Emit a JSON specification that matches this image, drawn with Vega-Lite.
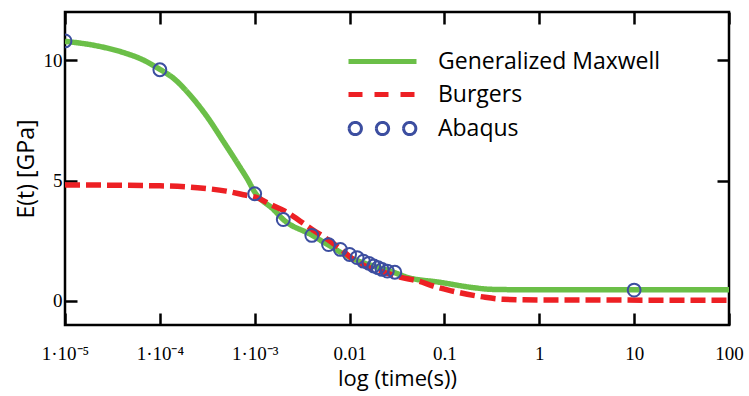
{
  "$schema": "https://vega.github.io/schema/vega-lite/v6.json",
  "width": 664,
  "height": 313,
  "autosize": "none",
  "padding": {"left": 65, "top": 12, "right": 20, "bottom": 71},
  "background": "white",
  "config": {
    "view": {"stroke": "black", "strokeWidth": 2.5},
    "axis": {
      "grid": false,
      "domain": false,
      "tickColor": "black",
      "tickWidth": 2.5,
      "tickSize": -12,
      "labelFont": "Liberation Serif",
      "labelFontSize": 19,
      "labelColor": "black",
      "labelFlush": false,
      "labelOverlap": false,
      "titleFont": "Open Sans",
      "titleFontSize": 22,
      "titleFontWeight": "normal",
      "titleColor": "black"
    },
    "legend": {
      "orient": "none",
      "legendX": 306,
      "legendY": 38,
      "padding": 0,
      "labelFont": "Open Sans",
      "labelFontSize": 23,
      "labelColor": "black",
      "labelLimit": 0,
      "labelOffset": 44,
      "rowPadding": 9,
      "symbolType": "stroke",
      "symbolSize": 4624,
      "symbolStrokeWidth": 5
    }
  },
  "datasets": {
    "curves": [
      {"t": 0.00001, "E": 10.78, "series": "Generalized Maxwell"},
      {"t": 0.00002, "E": 10.62, "series": "Generalized Maxwell"},
      {"t": 0.0000457, "E": 10.26, "series": "Generalized Maxwell"},
      {"t": 0.0000625, "E": 10.06, "series": "Generalized Maxwell"},
      {"t": 0.0001, "E": 9.62, "series": "Generalized Maxwell"},
      {"t": 0.000141, "E": 9.23, "series": "Generalized Maxwell"},
      {"t": 0.000209, "E": 8.54, "series": "Generalized Maxwell"},
      {"t": 0.000316, "E": 7.64, "series": "Generalized Maxwell"},
      {"t": 0.000468, "E": 6.62, "series": "Generalized Maxwell"},
      {"t": 0.000708, "E": 5.52, "series": "Generalized Maxwell"},
      {"t": 0.000832, "E": 5.08, "series": "Generalized Maxwell"},
      {"t": 0.001, "E": 4.52, "series": "Generalized Maxwell"},
      {"t": 0.001585, "E": 3.79, "series": "Generalized Maxwell"},
      {"t": 0.002, "E": 3.38, "series": "Generalized Maxwell"},
      {"t": 0.00389, "E": 2.76, "series": "Generalized Maxwell"},
      {"t": 0.00589, "E": 2.34, "series": "Generalized Maxwell"},
      {"t": 0.0102, "E": 1.8, "series": "Generalized Maxwell"},
      {"t": 0.0178, "E": 1.45, "series": "Generalized Maxwell"},
      {"t": 0.0269, "E": 1.24, "series": "Generalized Maxwell"},
      {"t": 0.0407, "E": 0.98, "series": "Generalized Maxwell"},
      {"t": 0.0912, "E": 0.77, "series": "Generalized Maxwell"},
      {"t": 0.204, "E": 0.55, "series": "Generalized Maxwell"},
      {"t": 0.316, "E": 0.48, "series": "Generalized Maxwell"},
      {"t": 1, "E": 0.46, "series": "Generalized Maxwell"},
      {"t": 100, "E": 0.46, "series": "Generalized Maxwell"},
      {"t": 0.00001, "E": 4.82, "series": "Burgers"},
      {"t": 0.0001, "E": 4.78, "series": "Burgers"},
      {"t": 0.00025, "E": 4.7, "series": "Burgers"},
      {"t": 0.0005, "E": 4.56, "series": "Burgers"},
      {"t": 0.00076, "E": 4.41, "series": "Burgers"},
      {"t": 0.00107, "E": 4.28, "series": "Burgers"},
      {"t": 0.00148, "E": 4.0, "series": "Burgers"},
      {"t": 0.00224, "E": 3.66, "series": "Burgers"},
      {"t": 0.00302, "E": 3.31, "series": "Burgers"},
      {"t": 0.00407, "E": 2.96, "series": "Burgers"},
      {"t": 0.00589, "E": 2.55, "series": "Burgers"},
      {"t": 0.00813, "E": 2.14, "series": "Burgers"},
      {"t": 0.011, "E": 1.72, "series": "Burgers"},
      {"t": 0.0158, "E": 1.39, "series": "Burgers"},
      {"t": 0.0229, "E": 1.19, "series": "Burgers"},
      {"t": 0.0347, "E": 0.98, "series": "Burgers"},
      {"t": 0.0525, "E": 0.83, "series": "Burgers"},
      {"t": 0.0759, "E": 0.62, "series": "Burgers"},
      {"t": 0.11, "E": 0.45, "series": "Burgers"},
      {"t": 0.174, "E": 0.28, "series": "Burgers"},
      {"t": 0.269, "E": 0.15, "series": "Burgers"},
      {"t": 0.417, "E": 0.07, "series": "Burgers"},
      {"t": 1, "E": 0.04, "series": "Burgers"},
      {"t": 100, "E": 0.03, "series": "Burgers"}
    ],
    "abaqus": [
      {"t": 0.00001, "E": 10.8, "series": "Abaqus"},
      {"t": 0.0001, "E": 9.6, "series": "Abaqus"},
      {"t": 0.001, "E": 4.45, "series": "Abaqus"},
      {"t": 0.002, "E": 3.38, "series": "Abaqus"},
      {"t": 0.004, "E": 2.72, "series": "Abaqus"},
      {"t": 0.006, "E": 2.34, "series": "Abaqus"},
      {"t": 0.008, "E": 2.14, "series": "Abaqus"},
      {"t": 0.01, "E": 1.93, "series": "Abaqus"},
      {"t": 0.012, "E": 1.8, "series": "Abaqus"},
      {"t": 0.014, "E": 1.65, "series": "Abaqus"},
      {"t": 0.016, "E": 1.56, "series": "Abaqus"},
      {"t": 0.018, "E": 1.45, "series": "Abaqus"},
      {"t": 0.02, "E": 1.38, "series": "Abaqus"},
      {"t": 0.022, "E": 1.31, "series": "Abaqus"},
      {"t": 0.025, "E": 1.24, "series": "Abaqus"},
      {"t": 0.03, "E": 1.19, "series": "Abaqus"},
      {"t": 10, "E": 0.45, "series": "Abaqus"}
    ]
  },
  "resolve": {"axis": {"x": "independent", "y": "independent"}},
  "layer": [
    {
      "data": {"name": "curves"},
      "mark": {"type": "line", "strokeWidth": 5.5, "clip": true, "interpolate": "monotone"},
      "encoding": {
        "x": {
          "field": "t", "type": "quantitative",
          "scale": {"type": "log", "domain": [0.00001, 100], "nice": false},
          "axis": {
            "orient": "bottom",
            "values": [0.00001, 0.0001, 0.001, 0.01, 0.1, 1, 10, 100],
            "labelPadding": 31,
            "title": "log (time(s))",
            "titlePadding": 5,
            "labelExpr": "datum.value < 0.00005 ? '1·10⁻⁵' : datum.value < 0.0005 ? '1·10⁻⁴' : datum.value < 0.005 ? '1·10⁻³' : datum.value < 0.05 ? '0.01' : datum.value < 0.5 ? '0.1' : datum.value < 5 ? '1' : datum.value < 50 ? '10' : '100'"
          }
        },
        "y": {
          "field": "E", "type": "quantitative",
          "scale": {"domain": [-1, 12], "nice": false, "zero": false},
          "axis": {
            "orient": "left",
            "values": [0, 5, 10],
            "labelPadding": 15,
            "title": "E(t) [GPa]",
            "titleFontSize": 23,
            "titlePadding": 5
          }
        },
        "color": {
          "field": "series", "type": "nominal",
          "scale": {
            "domain": ["Generalized Maxwell", "Burgers", "Abaqus"],
            "range": ["#6bbf48", "#ed2024", "#3c4ea0"]
          },
          "legend": {
            "title": null,
            "encode": {
              "symbols": {
                "update": {
                  "shape": {"signal": "datum.value === 'Abaqus' ? 'M-0.62,0A0.18,0.18,0,1,1,-0.98,0A0.18,0.18,0,1,1,-0.62,0M0.18,0A0.18,0.18,0,1,1,-0.18,0A0.18,0.18,0,1,1,0.18,0M0.98,0A0.18,0.18,0,1,1,0.62,0A0.18,0.18,0,1,1,0.98,0' : 'stroke'"},
                  "strokeDash": {"signal": "datum.value === 'Burgers' ? [14, 12] : [1, 0]"},
                  "strokeWidth": {"signal": "datum.value === 'Abaqus' ? 3 : 5"},
                  "stroke": {"signal": "datum.value === 'Generalized Maxwell' ? '#3cb54a' : datum.value === 'Burgers' ? '#ed2024' : '#3c4ea0'"},
                  "fill": {"value": "transparent"},
                  "opacity": {"value": 1}
                }
              }
            }
          }
        },
        "strokeDash": {
          "field": "series", "type": "nominal",
          "scale": {
            "domain": ["Generalized Maxwell", "Burgers"],
            "range": [[1, 0], [15, 6]]
          },
          "legend": null
        }
      }
    },
    {
      "mark": {"type": "rule", "color": "#3a8a8c", "strokeWidth": 2.5, "strokeDash": [5, 4]},
      "encoding": {
        "y": {"datum": 0, "type": "quantitative", "axis": null}
      }
    },
    {
      "data": {"name": "abaqus"},
      "mark": {"type": "point", "shape": "circle", "filled": false, "size": 165, "strokeWidth": 2, "color": "#3c4ea0", "opacity": 1, "clip": true},
      "encoding": {
        "x": {
          "field": "t", "type": "quantitative",
          "axis": {
            "orient": "top",
            "values": [0.00001, 0.0001, 0.001, 0.01, 0.1, 1, 10, 100],
            "labels": false,
            "title": null
          }
        },
        "y": {
          "field": "E", "type": "quantitative",
          "axis": {
            "orient": "right",
            "values": [5, 10],
            "labels": false,
            "title": null
          }
        }
      }
    }
  ]
}
